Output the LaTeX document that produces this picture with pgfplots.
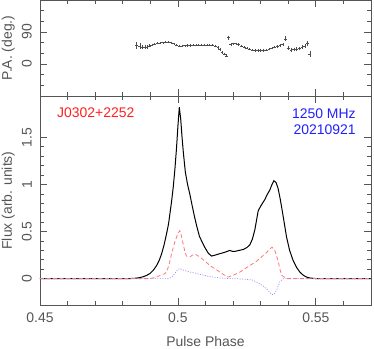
\documentclass[border=0pt]{standalone}
\usepackage{pgfplots}
\pgfplotsset{compat=1.18}
\usepackage{fontspec}
\setmainfont{Liberation Sans}
\definecolor{fr}{HTML}{555555}
\definecolor{lred}{HTML}{FF7878}
\definecolor{lblue}{HTML}{9090FF}
\definecolor{tred}{HTML}{FF2020}
\definecolor{tblue}{HTML}{2020FF}
\begin{document}
\fontsize{14}{16}\selectfont
\begin{tikzpicture}
\path[use as bounding box] (-40bp,-44bp) rectangle (334bp,305bp);
\pgfplotsset{
 common/.style={
  scale only axis, width=331bp,
  xmin=0.45, xmax=0.57,
  xtick={0.45,0.5,0.55}, minor xtick={0.46,0.47,0.48,0.49,0.51,0.52,0.53,0.54,0.56},
  tick align=inside, major tick length=7bp, minor tick length=4bp,
  axis line style={fr, line width=0.8bp},
  every tick/.style={fr, line width=0.8bp},
  tick label style={font=\fontsize{14}{16}\selectfont, text=fr},
  label style={font=\fontsize{14}{16}\selectfont, text=fr},
  yticklabel style={rotate=90, anchor=south, inner sep=0pt},
  yticklabel shift=8bp,
  ylabel style={at={(axis description cs:-0.0755,0.5)}, anchor=south, inner sep=0pt},
  /pgf/number format/assume math mode=true,
 }
}
% top panel: position angle
\begin{axis}[common, at={(0,209bp)}, anchor=south west, height=96bp,
  ymin=-90, ymax=180, ytick={0,90}, minor ytick={-60,-30,30,60,120,150},
  xticklabels={}, ylabel={P.A. (deg.)}]
\addplot[black!70, only marks, mark=-, mark size=1.4bp, mark options={line width=0.5bp},
  error bars/.cd, y dir=both, y explicit,
  error bar style={black!70, line width=0.4bp},
  error mark=-, error mark options={black!70, mark size=0.9bp, line width=0.4bp}]
 table[x=x, y=y, y error=e] {
x y e
0.4850 52 6
0.4862 51 6
0.4872 48 3.5
0.4880 47 3
0.4888 47 2.5
0.4896 51 2
0.4905 53 1
0.4915 56 0.5
0.4925 58 0.5
0.4935 59 0.5
0.4945 60 0.5
0.4955 61 0.5
0.4965 61 0.5
0.4975 60 0.5
0.4985 57 0.5
0.4995 53 0.5
0.5005 51 0.5
0.5015 51 0.5
0.5025 51.5 0.5
0.5035 52 0.5
0.5045 52 0.5
0.5055 52.5 0.5
0.5065 53 0.5
0.5075 53 0.5
0.5085 53.5 0.5
0.5095 53.5 0.5
0.5105 54 0.5
0.5115 54 0.5
0.5125 53 0.5
0.5135 50 1
0.5145 46 1
0.5152 41 1.5
0.5160 33 1.5
0.5168 28 1.5
0.5175 23 1.5
0.5182 74 3
0.5192 55 1
0.5200 57 0.5
0.5210 57 0.5
0.5220 55 0.5
0.5230 51 0.5
0.5240 47 0.5
0.5250 44 0.5
0.5260 41 0.5
0.5270 39 0.5
0.5280 38 0.5
0.5290 38 0.5
0.5300 38 0.5
0.5310 38 0.5
0.5320 39 0.5
0.5330 41 0.5
0.5340 44 0.5
0.5350 47 0.5
0.5360 49 1
0.5370 52 1.5
0.5380 55 1.5
0.5390 71 4
0.5400 45 2.5
0.5410 40 2.5
0.5420 41 2.5
0.5430 42 2.5
0.5440 43 2.5
0.5450 47 2.5
0.5460 50 3
0.5470 57 4
0.5478 28 5
};
\end{axis}
% bottom panel: profile
\begin{axis}[common, at={(0,0)}, anchor=south west, height=209bp,
  ymin=-0.28, ymax=1.94, ytick={0,0.5,1,1.5}, minor y tick num=4,
  xticklabel style={anchor=north, inner sep=0pt}, xticklabel shift=7.5bp,
  xlabel={Pulse Phase}, xlabel style={at={(axis description cs:0.5,-0.199)}, anchor=base},
  ylabel={Flux (arb. units)}]
\addplot[black, line width=1bp] coordinates {
(0.450,0) (0.480,0) (0.484,0.002) (0.486,0.01) (0.4874,0.02) (0.4887,0.035)
(0.4899,0.055) (0.4911,0.09) (0.4923,0.14) (0.4933,0.2) (0.4941,0.265)
(0.4950,0.36) (0.4959,0.48) (0.4966,0.58) (0.4971,0.69) (0.4977,0.82)
(0.4983,0.97) (0.4989,1.16) (0.4995,1.39) (0.5000,1.62) (0.5005,1.82)
(0.5010,1.70) (0.5015,1.50) (0.5020,1.33) (0.5027,1.13) (0.5035,1.00)
(0.5043,0.90) (0.5052,0.77) (0.5060,0.66) (0.5068,0.56) (0.5078,0.45)
(0.5086,0.40) (0.5098,0.33) (0.5110,0.27) (0.5122,0.24) (0.5135,0.25)
(0.5152,0.265) (0.5170,0.28) (0.5188,0.30) (0.5197,0.29) (0.5207,0.29)
(0.5222,0.30) (0.5237,0.31) (0.5250,0.33) (0.5261,0.36) (0.5270,0.42)
(0.5279,0.52) (0.5285,0.62) (0.5291,0.72) (0.5300,0.77) (0.5315,0.84)
(0.5325,0.90) (0.5333,0.94) (0.5341,1.00) (0.5348,1.04) (0.5356,1.02)
(0.5363,0.96) (0.5370,0.86) (0.5376,0.76) (0.5385,0.60) (0.5394,0.44)
(0.5405,0.30) (0.5418,0.19) (0.5430,0.12) (0.5442,0.07) (0.5455,0.035)
(0.5466,0.017) (0.5480,0.006) (0.5503,0) (0.570,0)
};
\addplot[lred, line width=0.8bp, dash pattern=on 4bp off 2.5bp] coordinates {
(0.450,0) (0.490,0) (0.4925,0.02) (0.4935,0.035) (0.4950,0.05) (0.4959,0.07)
(0.4968,0.15) (0.4977,0.265) (0.4990,0.40) (0.5000,0.48) (0.5007,0.51)
(0.5013,0.45) (0.5019,0.37) (0.5025,0.29) (0.5031,0.24) (0.5043,0.23)
(0.5053,0.25) (0.5062,0.26) (0.5071,0.245) (0.5080,0.23) (0.5098,0.185)
(0.5116,0.14) (0.5134,0.105) (0.5152,0.07) (0.5167,0.04) (0.5182,0.017)
(0.5200,0.035) (0.5225,0.07) (0.5243,0.105) (0.5261,0.14) (0.5283,0.18)
(0.5303,0.23) (0.5322,0.28) (0.5341,0.335) (0.5351,0.30) (0.5357,0.25)
(0.5363,0.19) (0.5370,0.10) (0.5376,0.035) (0.5394,0.0) (0.570,0)
};
\addplot[lblue, line width=0.7bp, dash pattern=on 1bp off 1.5bp] coordinates {
(0.450,0) (0.496,0) (0.4975,0.01) (0.4990,0.06) (0.5000,0.10) (0.5007,0.106)
(0.5020,0.09) (0.5043,0.07) (0.5062,0.06) (0.5080,0.045) (0.5110,0.025)
(0.5140,0.012) (0.5170,0.003) (0.5200,0) (0.5240,-0.005) (0.5270,-0.015)
(0.5285,-0.035) (0.5300,-0.06) (0.5312,-0.085) (0.5325,-0.12) (0.5339,-0.165)
(0.5345,-0.17) (0.5351,-0.155) (0.5358,-0.12) (0.5364,-0.075) (0.5370,-0.03)
(0.5382,0) (0.570,0)
};
\node[anchor=base west, text=tred, inner sep=0pt] at (rel axis cs:0.0514,0.895) {J0302+2252};
\node[anchor=base east, text=tblue, inner sep=0pt] at (rel axis cs:0.954,0.893) {1250 MHz};
\node[anchor=base east, text=tblue, inner sep=0pt] at (rel axis cs:0.954,0.818) {20210921};
\end{axis}
\end{tikzpicture}
\end{document}
